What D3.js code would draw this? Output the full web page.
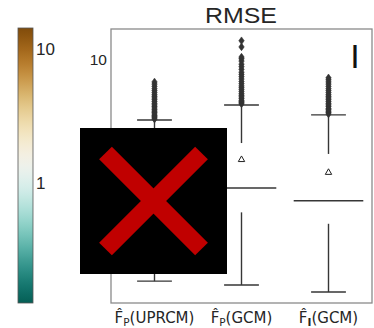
<!DOCTYPE html>
<html>
<head>
<meta charset="utf-8">
<script src="https://cdn.jsdelivr.net/npm/d3@7"></script>
<style>
  html, body { margin: 0; padding: 0; background: #fff; }
  svg { display: block; }
</style>
</head>
<body>
<svg id="chart" width="374" height="328"></svg>
<script>
// Categories and box statistics (RMSE, log axis)
const categories = ["FP_UPRCM", "FP_GCM", "FI_GCM"];
const whiskerLow  = [0.224, 0.21, 0.186];
const q1          = [0.66, 0.73, 0.60];
const medians     = [0.95, 1.11, 0.89];
const q3          = [1.95, 2.40, 1.99];
const whiskerHigh = [3.56, 4.61, 3.89];
const means       = [1.40, 1.82, 1.46];

// Outliers above the upper whisker
const fliers0 = [3.62, 3.7, 3.78, 3.85, 3.95, 4.05, 4.15, 4.25, 4.38, 4.5, 4.62, 4.75, 4.9,
                 5.05, 5.2, 5.35, 5.5, 5.7, 5.9, 6.1, 6.35, 6.6, 6.85];
const fliers1 = [4.7, 4.8, 4.9, 5.0, 5.15, 5.3, 5.45, 5.6, 5.8, 6.0, 6.2, 6.4, 6.65, 6.9,
                 7.2, 7.5, 7.8, 8.1, 8.5, 8.9, 9.3, 9.8, 10.2, 10.5, 12.5, 13.9];
const fliers2 = [3.95, 4.05, 4.15, 4.25, 4.35, 4.5, 4.62, 4.75, 4.9, 5.05, 5.2, 5.35, 5.5,
                 5.7, 5.9, 6.1, 6.35, 6.6, 6.85, 7.1, 7.35];
const fliers = [fliers0, fliers1, fliers2];

const yTicks = [10];
const cbarTicks = [1, 10];
const cbarDomain = [0.127, 14.3];

const svg = d3.select("#chart");
const frame = { left: 111, right: 372, top: 29, bottom: 303 };
const lineCol = "#363636";

const x = d3.scaleBand().domain(categories).range([frame.left, frame.right]).padding(0);
const y = d3.scaleLog().domain([0.154, 17]).range([frame.bottom, frame.top]);

// Title
svg.append("text")
  .attr("x", 241).attr("y", 23)
  .attr("text-anchor", "middle")
  .attr("textLength", 72)
  .attr("lengthAdjust", "spacingAndGlyphs")
  .style("font-family", "Liberation Sans, Arial, sans-serif")
  .style("font-size", "22.5px")
  .attr("fill", "#262626")
  .text("RMSE");

// Colorbar
const cb = { x: 18, w: 15, top: 28, bottom: 303 };
const cbY = d3.scaleLog().domain(cbarDomain).range([cb.bottom, cb.top]);
const defs = svg.append("defs");
const grad = defs.append("linearGradient").attr("id", "cbgrad")
  .attr("x1", 0).attr("y1", 1).attr("x2", 0).attr("y2", 0);
d3.range(0, 1.0001, 0.02).forEach(t => {
  grad.append("stop").attr("offset", t)
    .attr("stop-color", d3.interpolateBrBG(0.92 - 0.84 * t));
});
svg.append("rect")
  .attr("x", cb.x).attr("y", cb.top)
  .attr("width", cb.w).attr("height", cb.bottom - cb.top)
  .attr("fill", "url(#cbgrad)")
  .attr("stroke", "#555").attr("stroke-width", 0.8);
svg.append("g").selectAll("text").data(cbarTicks).join("text")
  .attr("x", cb.x + cb.w + 3)
  .attr("y", d => cbY(d))
  .attr("dy", "0.36em")
  .style("font-family", "Liberation Sans, Arial, sans-serif")
  .style("font-size", "17px")
  .attr("fill", "#262626")
  .text(d => d);

// Plot frame
svg.append("rect")
  .attr("x", frame.left).attr("y", frame.top)
  .attr("width", frame.right - frame.left).attr("height", frame.bottom - frame.top)
  .attr("fill", "none").attr("stroke", "#8a8a8a").attr("stroke-width", 1.3);

// Y tick labels
svg.append("g").selectAll("text").data(yTicks).join("text")
  .attr("x", frame.left - 4)
  .attr("y", d => y(d))
  .attr("dy", "0.36em")
  .attr("text-anchor", "end")
  .style("font-family", "Liberation Sans, Arial, sans-serif")
  .style("font-size", "15.5px")
  .attr("fill", "#262626")
  .text(d => d);

// Boxes
const boxW = x.bandwidth() * 0.8;
const capW = boxW / 2;
const g = svg.append("g");
categories.forEach((c, i) => {
  const cx = x(c) + x.bandwidth() / 2;
  const ln = (x1, y1, x2, y2) => g.append("line")
    .attr("x1", x1).attr("y1", y1).attr("x2", x2).attr("y2", y2)
    .attr("stroke", lineCol).attr("stroke-width", 1.4);
  // whiskers
  ln(cx, y(q3[i]), cx, y(whiskerHigh[i]));
  ln(cx, y(q1[i]), cx, y(whiskerLow[i]));
  // caps
  ln(cx - capW / 2, y(whiskerHigh[i]), cx + capW / 2, y(whiskerHigh[i]));
  ln(cx - capW / 2, y(whiskerLow[i]), cx + capW / 2, y(whiskerLow[i]));
  // median
  ln(cx - boxW / 2, y(medians[i]), cx + boxW / 2, y(medians[i]));
  // mean marker
  const my = y(means[i]);
  g.append("path")
    .attr("d", `M${cx},${my - 3.2}L${cx + 3.2},${my + 2.4}L${cx - 3.2},${my + 2.4}Z`)
    .attr("fill", "#fff").attr("stroke", "#222").attr("stroke-width", 1);
  // outliers (thin diamonds)
  g.append("g").selectAll("path").data(fliers[i]).join("path")
    .attr("d", d => {
      const fy = y(d);
      return `M${cx},${fy - 3.8}L${cx + 2.7},${fy}L${cx},${fy + 3.8}L${cx - 2.7},${fy}Z`;
    })
    .attr("fill", "#333").attr("stroke", "#333").attr("stroke-width", 0.6);
});

// X labels: F-hat with subscripts
const labels = [
  { sub: "P", rest: "(UPRCM)", bold: false },
  { sub: "P", rest: "(GCM)", bold: false },
  { sub: "I", rest: "(GCM)", bold: true }
];
const xl = svg.append("g");
categories.forEach((c, i) => {
  const t = xl.append("text")
    .attr("x", x(c) + x.bandwidth() / 2)
    .attr("y", 323)
    .attr("text-anchor", "middle")
    .style("font-family", "DejaVu Sans, sans-serif")
    .style("font-size", "15px")
    .attr("fill", "#262626");
  t.append("tspan").text("F\u0302");
  t.append("tspan").attr("dy", 2.5)
    .style("font-size", "10.5px")
    .style("font-weight", labels[i].bold ? "bold" : "normal")
    .text(labels[i].sub);
  t.append("tspan").attr("dy", -2.5).text(labels[i].rest);
});

// Panel mark
svg.append("text")
  .attr("x", 355).attr("y", 68)
  .attr("text-anchor", "middle")
  .style("font-family", "DejaVu Sans, sans-serif")
  .style("font-size", "32px")
  .attr("fill", "#111")
  .text("I");

// Placeholder block with red cross
const ph = { x: 80, y: 128, w: 147, h: 146 };
svg.append("rect")
  .attr("x", ph.x).attr("y", ph.y).attr("width", ph.w).attr("height", ph.h)
  .attr("fill", "#000");
const pcx = ph.x + ph.w / 2, pcy = ph.y + ph.h / 2, arm = 48;
[[-1, -1, 1, 1], [1, -1, -1, 1]].forEach(([a, b, c2, d]) => {
  svg.append("line")
    .attr("x1", pcx + a * arm).attr("y1", pcy + b * arm)
    .attr("x2", pcx + c2 * arm).attr("y2", pcy + d * arm)
    .attr("stroke", "#c00000").attr("stroke-width", 18);
});
</script>
</body>
</html>
